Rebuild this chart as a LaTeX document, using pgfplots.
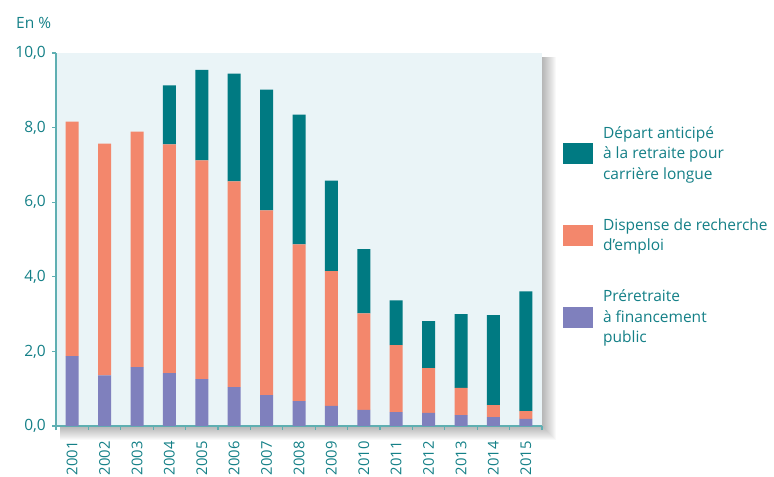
\documentclass[border=0pt]{standalone}
\usepackage{fontspec}
\setmainfont{Open Sans}
\usepackage{pgfplots}
\pgfplotsset{compat=1.18}
\definecolor{tealbar}{RGB}{0,122,130}
\definecolor{orangebar}{RGB}{243,135,108}
\definecolor{purplebar}{RGB}{127,128,189}
\definecolor{bgcol}{RGB}{234,244,247}
\definecolor{txtcol}{RGB}{20,128,135}
\definecolor{axcol}{RGB}{95,175,178}
\pgfplotsset{legsq/.style={legend image code/.code={\fill[##1] (0bp,-10.5bp) rectangle (30bp,10.5bp);}}}
\begin{document}
\begin{tikzpicture}
\fontsize{15.5bp}{19.5bp}\selectfont
\foreach \i in {1,...,14}{
  \fill[black,opacity=0.022] (4bp,-\i bp) rectangle (486bp+\i bp,369bp);
}
\begin{axis}[
  scale only axis, width=486bp, height=373bp,
  ybar stacked, bar width=13bp,
  xmin=-0.5, xmax=14.5, ymin=0, ymax=10,
  enlargelimits=false,
  axis background/.style={fill=bgcol},
  axis x line*=bottom, axis y line*=left,
  axis line style={draw=axcol, line width=1.5bp},
  tick align=outside,
  major tick length=4bp,
  tick style={draw=axcol, line width=1.2bp},
  xtick={-0.5,0.5,...,14.5},
  xticklabels={},
  extra x ticks={0,1,...,14},
  extra x tick labels={2001,2002,2003,2004,2005,2006,2007,2008,2009,2010,2011,2012,2013,2014,2015},
  extra x tick style={major tick length=0pt},
  xticklabel style={rotate=90, anchor=east, inner sep=0pt, font=\fontsize{14.8bp}{18bp}\selectfont},
  xticklabel shift=15bp,
  ytick={0,2,...,10},
  yticklabel style={inner sep=0pt, font=\fontsize{15.5bp}{19.5bp}\selectfont},
  yticklabel shift=6bp,
  ticklabel style={text=txtcol},
  /pgf/number format/.cd, fixed, fixed zerofill, precision=1, use comma, assume math mode=true,
  /pgfplots/.cd,
  reverse legend,
  legend style={at={(1.043,0.804)}, anchor=north west, draw=none, fill=none,
    row sep=37bp, column sep=10bp, inner sep=0pt,
    nodes={align=left, inner sep=0pt, text=txtcol, font=\fontsize{15.5bp}{20.5bp}\selectfont}},
  legend cell align=left,
]
\addplot[fill=purplebar, draw=none, legsq] coordinates {
(0,1.87) (1,1.36) (2,1.58) (3,1.42) (4,1.26) (5,1.04) (6,0.83) (7,0.67)
(8,0.54) (9,0.43) (10,0.37) (11,0.35) (12,0.29) (13,0.24) (14,0.19)};
\addlegendentry{Préretraite\\à financement\\public}
\addplot[fill=orangebar, draw=none, legsq] coordinates {
(0,6.29) (1,6.21) (2,6.31) (3,6.13) (4,5.86) (5,5.52) (6,4.95) (7,4.20)
(8,3.61) (9,2.59) (10,1.80) (11,1.20) (12,0.73) (13,0.32) (14,0.21)};
\addlegendentry{Dispense de recherche\\d'emploi}
\addplot[fill=tealbar, draw=none, legsq] coordinates {
(0,0) (1,0) (2,0) (3,1.58) (4,2.43) (5,2.89) (6,3.24) (7,3.48)
(8,2.43) (9,1.72) (10,1.20) (11,1.26) (12,1.98) (13,2.41) (14,3.21)};
\addlegendentry{Départ anticipé\\à la retraite pour\\carrière longue}
\end{axis}
\node[anchor=west, text=txtcol, inner sep=0pt] at (-40bp,403bp) {En \%};
\pgfresetboundingbox
\path[use as bounding box] (-56bp,-51bp) rectangle (718bp,426bp);
\end{tikzpicture}
\end{document}
